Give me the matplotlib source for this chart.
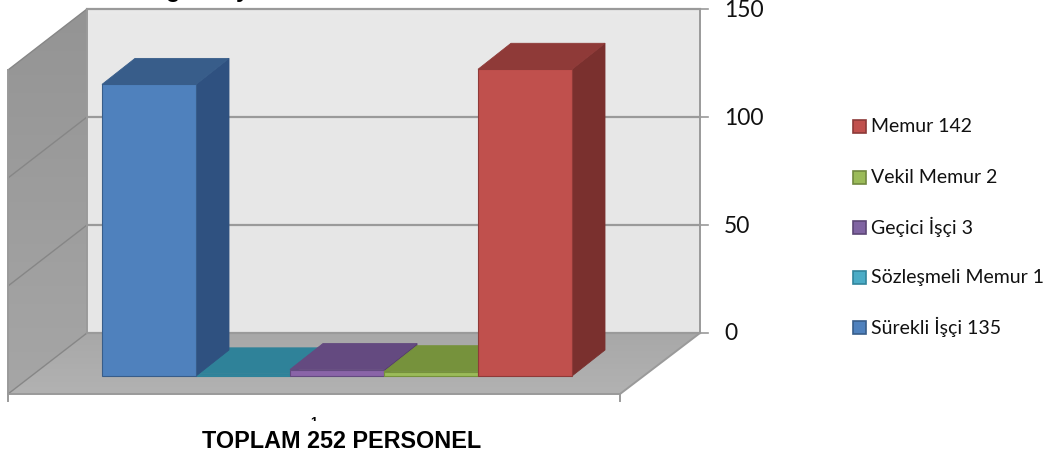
import numpy as np
import matplotlib
matplotlib.use("Agg")
import matplotlib.pyplot as plt
from matplotlib.patches import Polygon, Rectangle

plt.rcParams["font.family"] = ["Lato", "DejaVu Sans"]

W, H = 1052, 459

categories = ["Sürekli İşçi 135", "Sözleşmeli Memur 1", "Geçici İşçi 3", "Vekil Memur 2", "Memur 142"]
values = [135, 1, 3, 2, 142]
y_ticks = [0, 50, 100, 150]
x_label = "TOPLAM 252 PERSONEL"

# front, top, side colours for each series, plus the legend swatch fill
front_colors = ["#4f81bd", "#31859c", "#8a64a8", "#9bbb59", "#c0504d"]
top_colors = ["#385d8a", "#2f8299", "#644a80", "#76923c", "#8f3a38"]
side_colors = ["#2f5180", "#276b7e", "#54396e", "#5f7a30", "#7a302e"]
legend_colors = ["#4f81bd", "#4bacc6", "#8064a2", "#9bbb59", "#c0504d"]
legend_edges = ["#385d8a", "#31859c", "#5c4776", "#71893f", "#8c3a38"]

# oblique projection: one category = BAR_W px, one value unit = PX_PER_VAL px
BAR_W = 94.0
PX_PER_VAL = 2.16
BAR_LEFT = 102.0     # pixel x of the first bar
BASE_Y = 376.0       # pixel y of value 0 at bar front
BAR_DX, BAR_DY = 33.0, 26.0   # bar depth in px


def setup_axes(fig):
    ax = fig.add_axes([0, 0, 1, 1])
    ax.set_xlim((0 - BAR_LEFT) / BAR_W, (W - BAR_LEFT) / BAR_W)
    ax.set_ylim((BASE_Y - H) / PX_PER_VAL, BASE_Y / PX_PER_VAL)
    ax.axis("off")
    return ax


def px(x, y):
    # pixel position -> data position (for the chart furniture only)
    return (x - BAR_LEFT) / BAR_W, (BASE_Y - y) / PX_PER_VAL


def gradient(ax, pts, c0, c1, z=1):
    xs = [q[0] for q in pts]
    ys = [q[1] for q in pts]
    x0, y0 = px(min(xs), max(ys))
    x1, y1 = px(max(xs), min(ys))
    c0, c1 = matplotlib.colors.to_rgb(c0), matplotlib.colors.to_rgb(c1)
    t = np.linspace(0, 1, 64)
    g = (np.outer(t, c1) + np.outer(1 - t, c0))[:, None, :]
    im = ax.imshow(g, extent=(x0, x1, y0, y1), origin="lower", aspect="auto", zorder=z)
    im.set_clip_path(Polygon([px(*q) for q in pts], closed=True, transform=ax.transData))


def draw_walls(ax):
    # back wall, left wall, floor
    gradient(ax, [(87, 9), (700, 9), (700, 333), (87, 333)], "#e6e6e6", "#e9e9e9")
    gradient(ax, [(87, 9), (87, 333), (8, 394), (8, 70)], "#a6a6a6", "#949494")
    gradient(ax, [(87, 333), (700, 333), (620, 394), (8, 394)], "#b2b2b2", "#a8a8a8")
    grid = "#9a9a9a"
    for v in y_ticks:
        yp = 333 - v * PX_PER_VAL
        xs, ys = zip(px(87, yp), px(700, yp))
        ax.plot(xs, ys, color=grid, lw=1.6, zorder=3)
        xs, ys = zip(px(700, yp), px(708, yp))
        ax.plot(xs, ys, color=grid, lw=1.2, zorder=3)
        xs, ys = zip(px(87, yp), px(8, yp + 61))
        ax.plot(xs, ys, color="#868686", lw=1.0, zorder=3)
        lx, ly = px(724, yp + 1)
        ax.text(lx, ly, str(v), fontsize=16.5, color="#111111", ha="left", va="center")
    for a, b in [((700, 9), (700, 333)), ((87, 9), (87, 333)), ((700, 333), (620, 394)),
                 ((8, 70), (8, 394)), ((8, 394), (620, 394)), ((8, 394), (8, 401)),
                 ((620, 394), (620, 401))]:
        xs, ys = zip(px(*a), px(*b))
        ax.plot(xs, ys, color=grid, lw=1.4, zorder=3)


def draw_bars(ax):
    dx, dy = BAR_DX / BAR_W, BAR_DY / PX_PER_VAL
    for i, v in enumerate(values):
        x0, x1 = i, i + 1
        front = [(x0, 0), (x1, 0), (x1, v), (x0, v)]
        top = [(x0, v), (x1, v), (x1 + dx, v + dy), (x0 + dx, v + dy)]
        side = [(x1, 0), (x1 + dx, dy), (x1 + dx, v + dy), (x1, v)]
        z = 5.9 if i == 0 else 5 + i * 0.1
        ax.add_patch(Polygon(side, facecolor=side_colors[i], edgecolor=side_colors[i], lw=0.6, zorder=z))
        ax.add_patch(Polygon(top, facecolor=top_colors[i], edgecolor=top_colors[i], lw=0.6, zorder=z))
        ax.add_patch(Polygon(front, facecolor=front_colors[i], edgecolor=top_colors[i], lw=0.8, zorder=z + 0.05))


def draw_legend(ax):
    ys = [327, 277, 227, 177, 126]
    for name, fc, ec, yp in zip(categories, legend_colors, legend_edges, ys):
        x0, y0 = px(853.5, yp + 6.5)
        x1, y1 = px(866.5, yp - 6.5)
        ax.add_patch(Rectangle((x0, y0), x1 - x0, y1 - y0, facecolor=fc, edgecolor=ec, lw=1.2, zorder=5))
        lx, ly = px(871, yp)
        ax.text(lx, ly, name, fontsize=14, color="#111111", ha="left", va="center")


def draw_labels(ax):
    bold = dict(fontweight="bold", family=["Liberation Sans"], color="black", zorder=6)
    lx, ly = px(342, 441)
    ax.text(lx, ly, x_label, fontsize=16.8, ha="center", va="center", **bold)
    # the axis tick label "1" is mostly hidden behind the axis title in the source
    t_x, t_y = px(314, 423)
    t = ax.text(t_x, t_y, "1", fontsize=9, ha="center", va="center", **bold)
    cx0, cy0 = px(300, 421)
    cx1, cy1 = px(330, 410)
    t.set_clip_path(Rectangle((cx0, cy0), cx1 - cx0, cy1 - cy0, transform=ax.transData))
    t.set_clip_on(True)
    # descenders of the chart title, which runs off the top edge in the source
    for ch, xp in [("g", 173), ("y", 242)]:
        gx, gy = px(xp, -3)
        ax.text(gx, gy, ch, fontsize=16.8, ha="center", va="baseline", **bold)


def main():
    fig = plt.figure(figsize=(W / 100, H / 100), dpi=100, facecolor="white")
    ax = setup_axes(fig)
    draw_walls(ax)
    draw_bars(ax)
    draw_legend(ax)
    draw_labels(ax)
    fig.savefig("out.png", dpi=100)


if __name__ == "__main__":
    main()
